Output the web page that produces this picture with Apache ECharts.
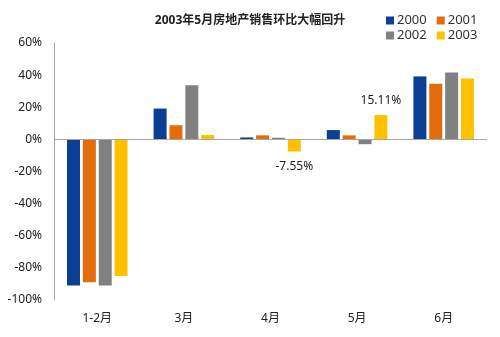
<!DOCTYPE html>
<html><head><meta charset="utf-8">
<script src="https://cdn.jsdelivr.net/npm/echarts@6/dist/echarts.min.js"></script>
<style>html,body{margin:0;padding:0;background:#fff}#c{width:500px;height:337px}</style>
</head><body><div id="c"></div>
<script>
var categories = ['1-2月', '3月', '4月', '5月', '6月'];
var seriesNames = ['2000', '2001', '2002', '2003'];
var v2000 = [-91, 19.2, 1.2, 5.8, 39.2];
var v2001 = [-89, 8.8, 2.5, 2.5, 34.6];
var v2002 = [-91, 33.7, 1.0, -3.0, 41.7];
var v2003 = [-85, 2.7, -7.55, 15.11, 37.9];
var yTicks = [-100, -80, -60, -40, -20, 0, 20, 40, 60];
var titleText = '2003年5月房地产销售环比大幅回升';
var colors = ['#0B3F94', '#E46C0A', '#808080', '#FFC000'];
var font = "'Noto Sans', 'Noto Sans CJK SC', sans-serif";

var chart = echarts.init(document.getElementById('c'));
var dataSets = [v2000, v2001, v2002, v2003];
var series = seriesNames.map(function (n, i) {
  var s = {
    name: n, type: 'bar', data: dataSets[i].slice(), barWidth: 13, barGap: '22%',
    itemStyle: { color: colors[i] }
  };
  if (i === 3) {
    s.data = dataSets[i].map(function (v, j) {
      if (j === 2 || j === 3) {
        return { value: v, label: { show: true, position: v < 0 ? 'bottom' : 'top', distance: 9,
          formatter: v.toFixed(2) + '%', color: '#222', fontSize: 12, fontFamily: font } };
      }
      return v;
    });
  }
  if (i === 0) {
    s.markLine = { silent: true, symbol: 'none', label: { show: false },
      lineStyle: { color: '#A6A6A6', type: 'solid', width: 1 }, data: [{ yAxis: 0 }] };
  }
  return s;
});

chart.setOption({
  animation: false,
  color: colors,
  title: { text: titleText, left: 'center', top: 10,
    textStyle: { fontSize: 12, fontWeight: 'bold', color: '#222', fontFamily: font } },
  legend: [
    { data: ['2000', '2001'], left: 381, top: 9, itemWidth: 8, itemHeight: 8, itemGap: 10, icon: 'rect',
      textStyle: { fontSize: 13, color: '#333', fontFamily: font, padding: [0, 0, 0, -2] } },
    { data: ['2002', '2003'], left: 381, top: 24, itemWidth: 8, itemHeight: 8, itemGap: 10, icon: 'rect',
      textStyle: { fontSize: 13, color: '#333', fontFamily: font, padding: [0, 0, 0, -2] } }
  ],
  grid: { left: 54, right: 13, top: 43, bottom: 37 },
  xAxis: {
    type: 'category', data: categories,
    axisLine: { show: false, onZero: false }, axisTick: { show: false },
    axisLabel: { color: '#222', fontSize: 12, margin: 13, fontFamily: font }
  },
  yAxis: {
    type: 'value', min: -100, max: 60, interval: 20,
    axisLine: { show: true, lineStyle: { color: '#A6A6A6' } },
    axisTick: { show: false }, splitLine: { show: false },
    axisLabel: { color: '#222', fontSize: 12, margin: 12, fontFamily: font,
      formatter: function (v) { return yTicks.indexOf(v) >= 0 ? v + '%' : ''; } }
  },
  series: series
});
</script></body></html>
